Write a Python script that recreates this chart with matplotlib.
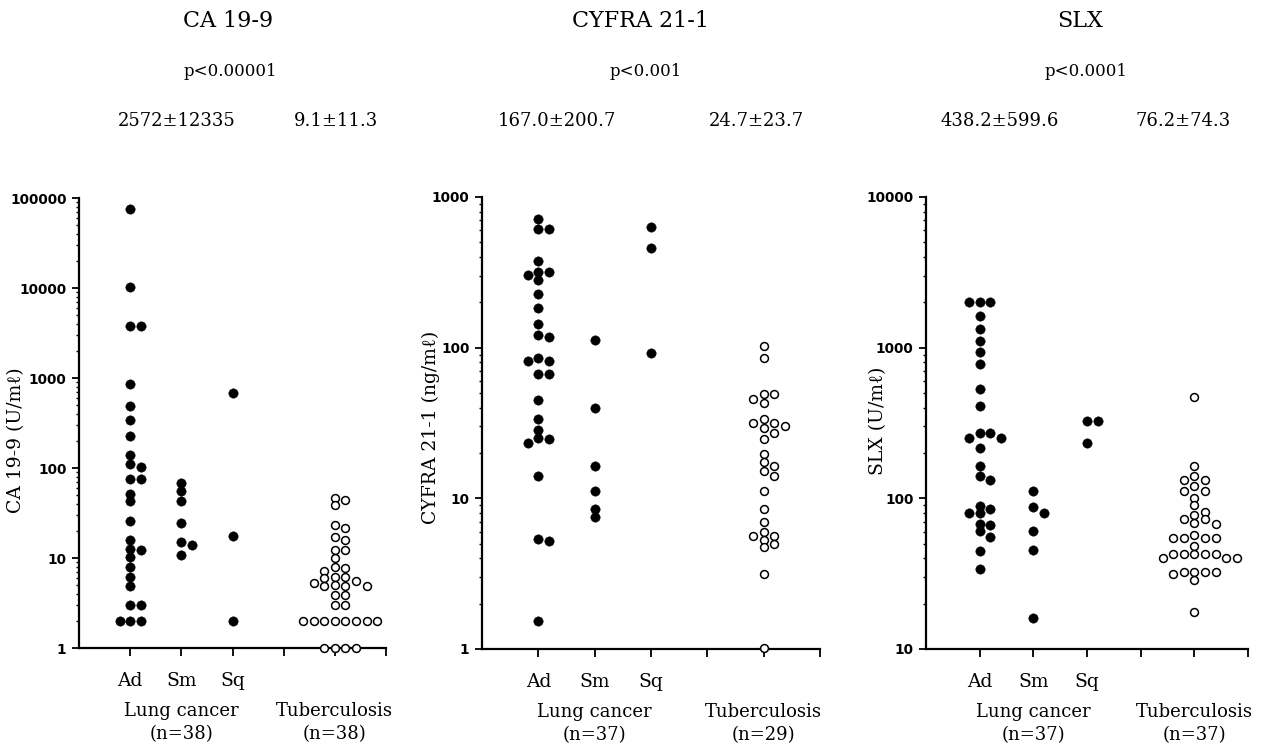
import numpy as np
import matplotlib
matplotlib.use("Agg")
import matplotlib.pyplot as plt
from matplotlib.ticker import FixedLocator, LogLocator, NullFormatter

# ---------------- data ----------------
group_names = ["Ad", "Sm", "Sq"]

ca_ad = [75000, 10300, 3800, 3740, 860, 485, 343, 228, 138, 112, 102, 76, 76, 52, 43,
         25.6, 16, 12.7, 12.2, 10.3, 8.0, 6.2, 4.9, 3, 3, 2, 2, 2]
ca_sm = [68, 55, 43, 24.5, 14.9, 13.9, 10.7]
ca_sq = [684, 17.6, 2]
ca_tb = [46, 44, 38.5, 23, 21.8, 17.1, 15.7, 12.2, 12.2, 9.9, 7.9, 7.8, 7.1, 6.1, 6.1, 6.0,
         5.6, 5.3, 5.0, 4.9, 4.9, 4.9, 3.9, 3.9, 3, 3, 2, 2, 2, 2, 2, 2, 2, 2, 1, 1, 1, 1]

cy_ad = [710, 610, 610, 376, 316, 316, 303, 281, 226, 182, 143, 121, 117, 86, 81.5, 81.5,
         66.5, 66.5, 45, 33.4, 28.4, 25.2, 24.6, 23.4, 14.1, 5.37, 5.2, 1.53]
cy_sm = [112, 39.5, 16.4, 11.2, 8.5, 7.55]
cy_sq = [634, 458, 92.5]
cy_tb = [102.5, 86, 49, 49, 45.4, 43, 33.4, 31.8, 31.8, 30.3, 29.4, 27, 24.6, 19.6, 17.3,
         16.4, 15.3, 14.1, 11.2, 8.5, 7.0, 5.95, 5.6, 5.6, 5.3, 4.95, 4.73, 3.13, 1.01]

slx_ad = [2000, 2000, 2000, 1626, 1327, 1110, 938, 785, 528, 409, 272, 270, 252, 252, 215,
          164, 141, 132, 89, 84.6, 80.4, 80.4, 67.4, 66.5, 60.7, 55, 44.7, 33.8]
slx_sm = [112, 88, 80.4, 60.7, 45.4, 16.1]
slx_sq = [326, 326, 234]
slx_tb = [472, 164, 141, 132, 132, 121, 112, 112, 101, 90, 81.5, 77.4, 72.9, 72.9, 68.9,
          67.5, 57, 54.3, 54.3, 54.3, 54.3, 48.2, 42.7, 42.7, 42.7, 42.7, 42.7, 40, 40, 40,
          32.6, 32.6, 32.6, 32.6, 31.3, 28.7, 17.5]

titles = ["CA 19-9", "CYFRA 21-1", "SLX"]
p_values = ["p<0.00001", "p<0.001", "p<0.0001"]
cancer_means = ["2572±12335", "167.0±200.7", "438.2±599.6"]
tb_means = ["9.1±11.3", "24.7±23.7", "76.2±74.3"]
ylabels = ["CA 19-9 (U/mℓ)", "CYFRA 21-1 (ng/mℓ)", "SLX (U/mℓ)"]
cancer_n = ["(n=38)", "(n=37)", "(n=37)"]
tb_n = ["(n=38)", "(n=29)", "(n=37)"]
y_ranges = [(1, 100000), (1, 1000), (10, 10000)]

panels = [
    (ca_ad, ca_sm, ca_sq, ca_tb),
    (cy_ad, cy_sm, cy_sq, cy_tb),
    (slx_ad, slx_sm, slx_sq, slx_tb),
]

# ---------------- layout ----------------
W, H = 1270, 747
fig = plt.figure(figsize=(W / 100, H / 100), dpi=100)
SERIF = ["DejaVu Serif", "Liberation Serif", "DejaVu Sans"]

# axes rectangles in pixels: left, right, top, bottom
ax_px = [(79, 386, 198, 648), (482, 820, 197, 649), (926, 1248, 197, 649)]
ylabel_px = [(16, 440), (431, 427), (878, 421)]
title_x = [228, 641, 1080]
p_x = [230, 646, 1086]
cm_x = [177, 557, 1000]
tm_x = [336, 756, 1183]


def fx(x):
    return x / W


def fy(y):
    return 1 - y / H


def swarm(ax, values, xc, y_ref, unit_px=10.6, thresh_px=6.5):
    values = np.asarray(values, dtype=float)
    tr = ax.transData
    x0 = tr.transform((xc, y_ref))[0]
    x1 = tr.transform((xc + 1, y_ref))[0]
    du = unit_px / (x1 - x0)
    order = np.argsort(-values, kind="stable")
    cands = [0]
    for j in range(1, 30):
        cands += [j, -j]
    placed = []
    xs = np.zeros(len(values))
    for i in order:
        ypix = tr.transform((xc, values[i]))[1]
        for s in cands:
            if all(not (ps == s and abs(py - ypix) < thresh_px) for ps, py in placed):
                break
        placed.append((s, ypix))
        xs[i] = xc + s * du
    return xs


for k, (groups, (y_lo, y_hi)) in enumerate(zip(panels, y_ranges)):
    l, r, t, b = ax_px[k]
    ax = fig.add_axes([fx(l), fy(b), (r - l) / W, (b - t) / H])
    ax.set_yscale("log")
    ax.set_ylim(y_lo, y_hi)
    ax.set_xlim(0, 6)
    for s in ["top", "right"]:
        ax.spines[s].set_visible(False)
    for s in ["left", "bottom"]:
        ax.spines[s].set_linewidth(1.6)

    decades = [10 ** e for e in range(int(np.log10(y_lo)), int(np.log10(y_hi)) + 1)]
    ax.yaxis.set_major_locator(FixedLocator(decades))
    ax.set_yticklabels([str(d) for d in decades], fontfamily="DejaVu Sans",
                       fontweight="bold", fontsize=9.8)
    ax.yaxis.set_minor_locator(LogLocator(base=10, subs=np.arange(2, 10)))
    ax.yaxis.set_minor_formatter(NullFormatter())
    ax.tick_params(axis="y", which="major", length=5, width=1.3, pad=4, direction="out")
    ax.tick_params(axis="y", which="minor", length=2.5, width=1.0, direction="out")

    ax.xaxis.set_major_locator(FixedLocator([1, 2, 3, 4, 5, 6]))
    ax.set_xticklabels([])
    ax.tick_params(axis="x", which="major", length=6, width=1.3, direction="out")
    ax.xaxis.set_minor_locator(FixedLocator([]))

    xcs = [1, 2, 3, 5]
    for gi, (vals, xc) in enumerate(zip(groups, xcs)):
        xs = swarm(ax, vals, xc, y_lo)
        if gi < 3:
            ax.scatter(xs, vals, s=46, facecolors="black", edgecolors="black",
                       linewidths=0.3, clip_on=False, zorder=3)
        else:
            ax.scatter(xs, vals, s=32, facecolors="white", edgecolors="black",
                       linewidths=1.1, clip_on=False, zorder=3)

    # category labels
    for xc, name in zip([1, 2, 3], group_names):
        ax.annotate(name, xy=(xc, 0), xycoords=("data", "axes fraction"),
                    xytext=(0, -23.5), textcoords="offset points", ha="center",
                    va="center", fontsize=13.5, fontfamily=SERIF)
    ax.annotate("Lung cancer", xy=(2, 0), xycoords=("data", "axes fraction"),
                xytext=(0, -45.5), textcoords="offset points", ha="center",
                va="center", fontsize=13, fontfamily=SERIF)
    ax.annotate(cancer_n[k], xy=(2, 0), xycoords=("data", "axes fraction"),
                xytext=(0, -62), textcoords="offset points", ha="center",
                va="center", fontsize=13, fontfamily=SERIF)
    ax.annotate("Tuberculosis", xy=(5, 0), xycoords=("data", "axes fraction"),
                xytext=(0, -45.5), textcoords="offset points", ha="center",
                va="center", fontsize=13, fontfamily=SERIF)
    ax.annotate(tb_n[k], xy=(5, 0), xycoords=("data", "axes fraction"),
                xytext=(0, -62), textcoords="offset points", ha="center",
                va="center", fontsize=13, fontfamily=SERIF)

    # texts above
    fig.text(fx(title_x[k]), fy(21), titles[k], ha="center", va="center",
             fontsize=16, fontfamily=SERIF)
    fig.text(fx(p_x[k]), fy(71), p_values[k], ha="center", va="center",
             fontsize=12, fontfamily=SERIF)
    fig.text(fx(cm_x[k]), fy(121), cancer_means[k], ha="center", va="center",
             fontsize=13, fontfamily=SERIF)
    fig.text(fx(tm_x[k]), fy(121), tb_means[k], ha="center", va="center",
             fontsize=13, fontfamily=SERIF)
    fig.text(fx(ylabel_px[k][0]), fy(ylabel_px[k][1]), ylabels[k], ha="center",
             va="center", rotation=90, fontsize=13.5, fontfamily=SERIF)

fig.savefig("out.png", dpi=100)
